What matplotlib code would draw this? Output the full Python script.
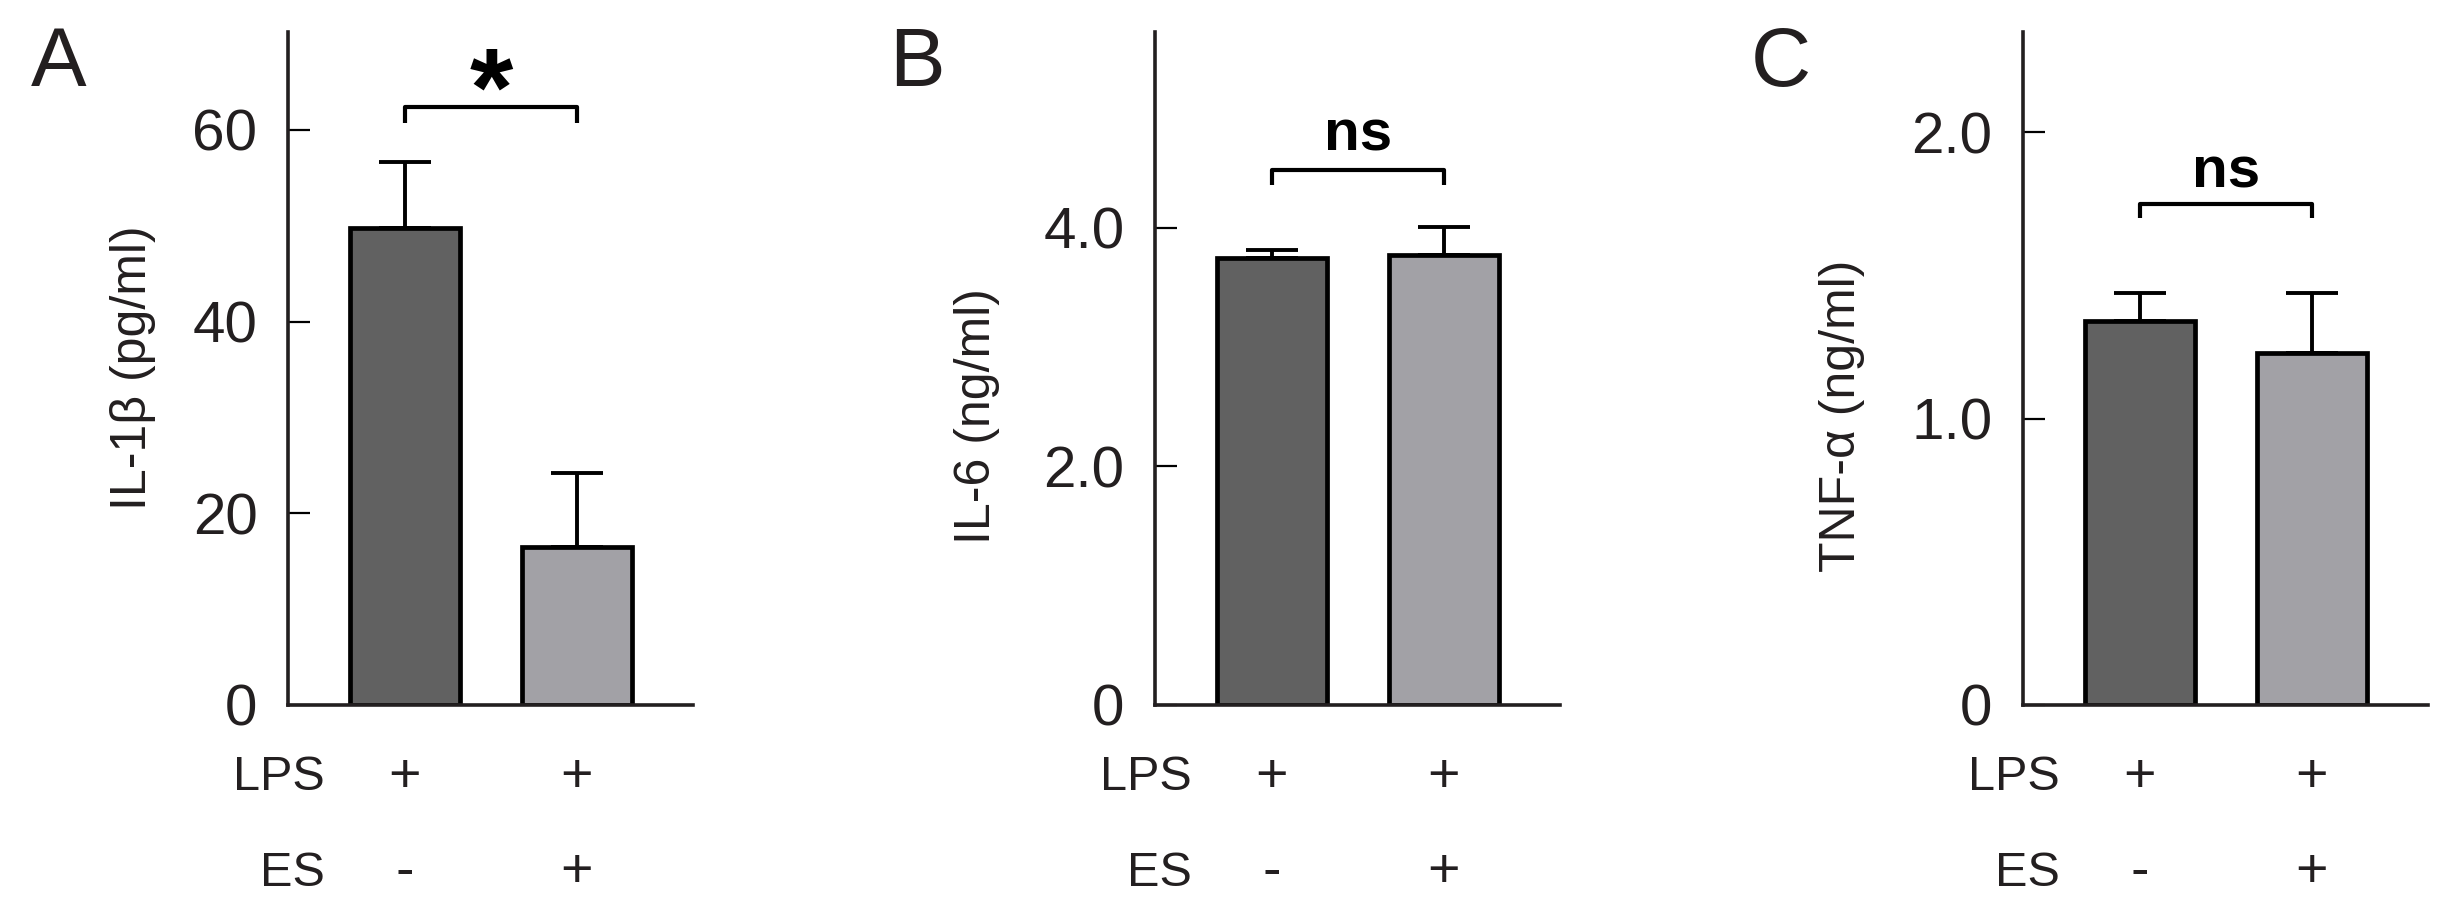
import matplotlib
matplotlib.use("Agg")
import matplotlib.pyplot as plt
import matplotlib.transforms as mtransforms

plt.rcParams['font.family'] = ['Liberation Sans', 'DejaVu Sans']

# data
groups = ['LPS', 'ES']
lps_signs = ['+', '+']
es_signs = ['-', '+']

il1b_mean = [49.8, 16.5]
il1b_err = [6.8, 7.7]
il6_mean = [3.75, 3.77]
il6_err = [0.06, 0.24]
tnf_mean = [1.34, 1.23]
tnf_err = [0.10, 0.21]

panels = [
    dict(letter='A', mean=il1b_mean, err=il1b_err, ylabel='IL-1β (pg/ml)',
         ylim=70.2, ticks=[0, 20, 40, 60], ticklabels=['0', '20', '40', '60'],
         bracket=(62.4, 60.7), sig='*', sig_y=63.5, ylab_y=368),
    dict(letter='B', mean=il6_mean, err=il6_err, ylabel='IL-6 (ng/ml)',
         ylim=5.64, ticks=[0, 2.0, 4.0], ticklabels=['0', '2.0', '4.0'],
         bracket=(4.48, 4.36), sig='ns', sig_y=4.545, ylab_y=416),
    dict(letter='C', mean=tnf_mean, err=tnf_err, ylabel='TNF-α (ng/ml)',
         ylim=2.35, ticks=[0, 1.0, 2.0], ticklabels=['0', '1.0', '2.0'],
         bracket=(1.75, 1.70), sig='ns', sig_y=1.765, ylab_y=416),
]

bar_colors = ['#616161', '#a2a1a6']
text_color = '#231f20'

W, H = 2459, 919
fig = plt.figure(figsize=(W / 100, H / 100), dpi=100)

axes_left = [288, 1155, 2023]
ylabel_x = [133, 977, 1842]
letter_x = [31, 889, 1751]
ax_w = 405 / W
ax_b = 1 - 705 / H
ax_h = (705 - 32) / H

x = [0, 1]

for i, p in enumerate(panels):
    ax = fig.add_axes([axes_left[i] / W, ax_b, ax_w, ax_h])
    ax.errorbar(x, p['mean'], yerr=[[0, 0], p['err']], fmt='none',
                ecolor='black', elinewidth=2.8, capsize=19, capthick=2.8, zorder=1)
    ax.bar(x, p['mean'], width=0.64, color=bar_colors, edgecolor='black',
           linewidth=3.4, zorder=2)
    ax.set_xlim(-0.68, 1.675)
    ax.set_ylim(0, p['ylim'])
    ax.set_yticks(p['ticks'])
    ax.set_yticklabels(p['ticklabels'])
    ax.set_xticks([])
    ax.tick_params(axis='y', direction='in', length=16, width=1.6,
                   pad=22, labelsize=42, labelcolor=text_color)
    for side in ['top', 'right']:
        ax.spines[side].set_visible(False)
    for side in ['left', 'bottom']:
        ax.spines[side].set_linewidth(2.6)
        ax.spines[side].set_color(text_color)

    # significance bracket
    top, foot = p['bracket']
    ax.plot([0, 0, 1, 1], [foot, top, top, foot], color='black',
            linewidth=3.0, solid_capstyle='butt', clip_on=False)
    if p['sig'] == '*':
        ax.text(0.5, p['sig_y'], '*', ha='center', va='center',
                fontsize=80, fontweight='bold', color='black')
    else:
        ax.text(0.5, p['sig_y'], 'ns', ha='center', va='bottom',
                fontsize=42, fontweight='bold', color='black')

    # condition rows under the axis
    trans = mtransforms.blended_transform_factory(ax.transData, fig.transFigure)
    for sign_row, name, ypx in [(lps_signs, groups[0], 778), (es_signs, groups[1], 873)]:
        yf = 1 - ypx / H
        fig.text((axes_left[i] + 37) / W, yf, name, ha='right', va='center',
                 fontsize=35, color=text_color)
        for xi, s in zip(x, sign_row):
            ax.text(xi, yf, s, transform=trans, ha='center', va='center',
                    fontsize=40, color=text_color)

    fig.text(ylabel_x[i] / W, 1 - p['ylab_y'] / H, p['ylabel'], rotation=90,
             ha='center', va='center', fontsize=36, color=text_color)
    fig.text(letter_x[i] / W, 1 - 64 / H, p['letter'], ha='left', va='center',
             fontsize=60, color=text_color)

fig.savefig('out.png', dpi=100)
